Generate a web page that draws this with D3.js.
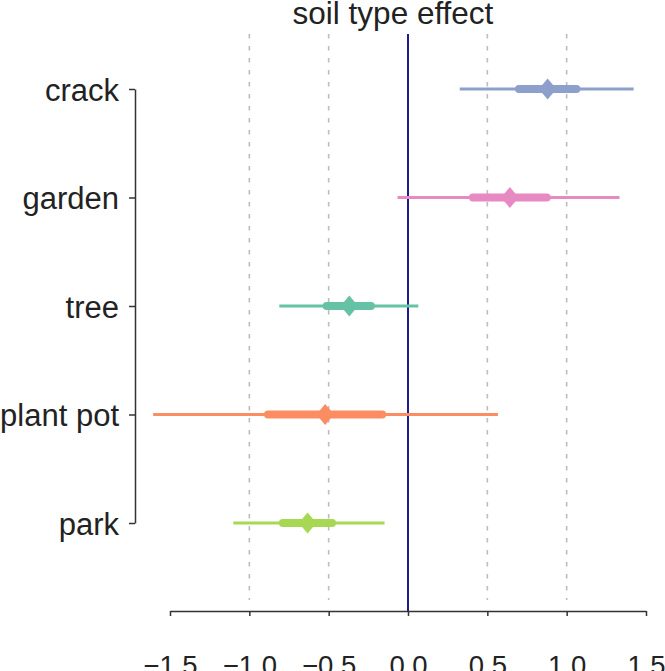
<!DOCTYPE html>
<html>
<head>
<meta charset="utf-8">
<script src="https://cdn.jsdelivr.net/npm/d3@7"></script>
<style>
  html, body { margin: 0; padding: 0; background: #ffffff; }
  svg { display: block; font-family: "Liberation Sans", Arial, Helvetica, sans-serif; }
</style>
</head>
<body>
<svg id="chart" width="665" height="671"></svg>
<script>
// ---- data ----
const categories = ["crack", "garden", "tree", "plant pot", "park"];
const medians    = [0.880, 0.642, -0.370, -0.522, -0.633];
const innerLow   = [0.699, 0.409, -0.513, -0.883, -0.789];
const innerHigh  = [1.062, 0.875, -0.233, -0.162, -0.478];
const outerLow   = [0.326, -0.066, -0.811, -1.606, -1.101];
const outerHigh  = [1.422, 1.333, 0.065, 0.567, -0.148];
const colors     = ["#8da0cb", "#e78ac3", "#66c2a5", "#fc8d62", "#a6d854"];
const xTicks     = [-1.5, -1.0, -0.5, 0.0, 0.5, 1.0, 1.5];
const gridValues = [-1.0, -0.5, 0.5, 1.0];
const title      = "soil type effect";

const rows = categories.map((c, i) => ({
  cat: c, med: medians[i], il: innerLow[i], ih: innerHigh[i],
  ol: outerLow[i], oh: outerHigh[i], color: colors[i]
}));

const svg = d3.select("#chart");

const x = d3.scaleLinear().domain([-1.5, 1.5]).range([170, 646]);
const y = d3.scalePoint().domain(categories).range([89, 523]);

// gridlines
svg.append("g").selectAll("line").data(gridValues).join("line")
  .attr("x1", d => x(d)).attr("x2", d => x(d))
  .attr("y1", 34).attr("y2", 600)
  .attr("stroke", "#bdbdbd").attr("stroke-width", 1.6)
  .attr("stroke-dasharray", "4.5,7.5");

// zero line
svg.append("line")
  .attr("x1", x(0)).attr("x2", x(0))
  .attr("y1", 34).attr("y2", 611)
  .attr("stroke", "#1c1c8a").attr("stroke-width", 2);

// axes
const xAxis = d3.axisBottom(x).tickValues(xTicks).tickFormat(d3.format(".1f"))
  .tickSize(5).tickSizeOuter(0).tickPadding(39);
const gx = svg.append("g").attr("transform", "translate(0,611)").call(xAxis);
gx.select(".domain").attr("stroke", "#333").attr("stroke-width", 1.5);
gx.selectAll(".tick line").attr("stroke", "#333").attr("stroke-width", 1.5);
gx.selectAll(".tick text").attr("font-size", "27.5px").attr("fill", "#222")
  .attr("font-family", "'Liberation Sans', Arial, sans-serif");

const yAxis = d3.axisLeft(y).tickSize(6).tickSizeOuter(0).tickPadding(10);
const gy = svg.append("g").attr("transform", "translate(135,0)").call(yAxis);
gy.select(".domain").attr("stroke", "#333").attr("stroke-width", 1.5);
gy.selectAll(".tick line").attr("stroke", "#333").attr("stroke-width", 1.5);
gy.selectAll(".tick text").attr("font-size", "31px").attr("fill", "#222")
  .attr("dy", "0.37em")
  .attr("font-family", "'Liberation Sans', Arial, sans-serif");

// outer intervals
svg.append("g").selectAll("line").data(rows).join("line")
  .attr("x1", d => x(d.ol)).attr("x2", d => x(d.oh))
  .attr("y1", d => y(d.cat)).attr("y2", d => y(d.cat))
  .attr("stroke", d => d.color).attr("stroke-width", 2.8);

// inner intervals
svg.append("g").selectAll("line").data(rows).join("line")
  .attr("x1", d => x(d.il)).attr("x2", d => x(d.ih))
  .attr("y1", d => y(d.cat)).attr("y2", d => y(d.cat))
  .attr("stroke", d => d.color).attr("stroke-width", 7.8)
  .attr("stroke-linecap", "round");

// diamonds
const hw = 8.8, hh = 10.5;
svg.append("g").selectAll("path").data(rows).join("path")
  .attr("d", d => {
    const cx = x(d.med), cy = y(d.cat);
    return `M${cx},${cy - hh}L${cx + hw},${cy}L${cx},${cy + hh}L${cx - hw},${cy}Z`;
  })
  .attr("fill", d => d.color);

// title
svg.append("text")
  .attr("x", 393).attr("y", 24)
  .attr("text-anchor", "middle")
  .attr("font-size", "31.5px").attr("fill", "#222")
  .text(title);
</script>
</body>
</html>
